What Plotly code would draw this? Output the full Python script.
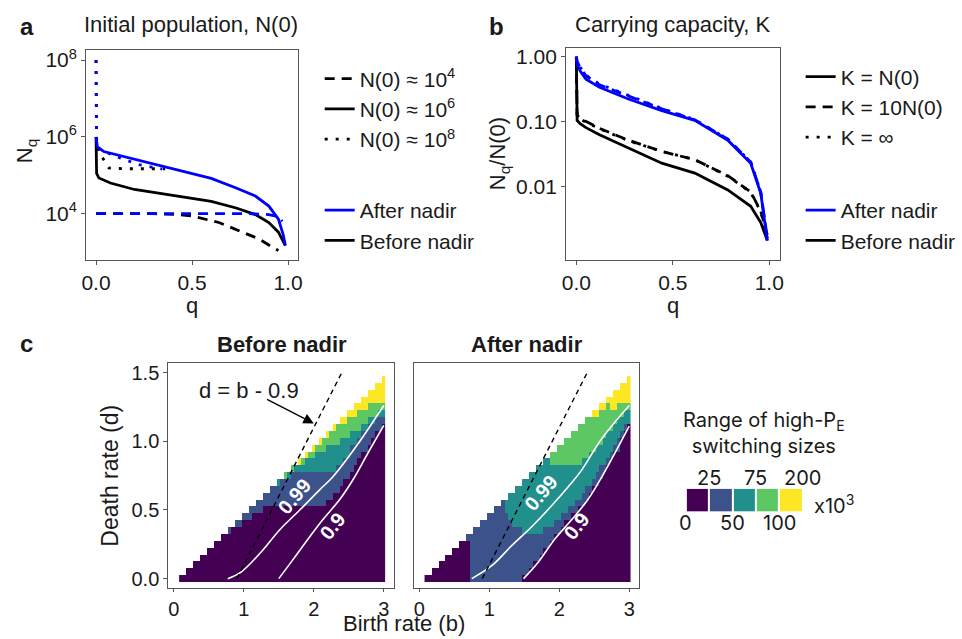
import plotly.graph_objects as go

# ---------------- Panel a : initial population ----------------
q_a_solid_before = [0, 0.003, 0.015, 0.075, 0.2, 0.37, 0.5, 0.6, 0.73, 0.83, 0.9, 0.95, 0.986]
n_a_solid_before = [1.0e6, 1.12e5, 8.5e4, 6.3e4, 4.27e4, 3.16e4, 2.51e4, 2.09e4, 1.41e4, 9.5e3, 5.9e3, 3.3e3, 1.48e3]
q_a_solid_after = [0, 0.007, 0.04, 0.2, 0.37, 0.5, 0.6, 0.73, 0.83, 0.9, 0.95, 0.975, 0.986]
n_a_solid_after = [1.0e6, 5.5e5, 4.17e5, 2.63e5, 1.66e5, 1.12e5, 8.3e4, 4.68e4, 2.88e4, 1.58e4, 7.2e3, 2.8e3, 1.48e3]
q_a_dash_before = [0, 0.3, 0.42, 0.5, 0.64, 0.75, 0.85, 0.92, 0.95]
n_a_dash_before = [1.0e4, 1.0e4, 9.5e3, 8.7e3, 5.9e3, 3.55e3, 2.19e3, 1.32e3, 1.1e3]
q_a_dash_after = [0, 0.5, 0.8, 0.9, 0.95, 0.97]
n_a_dash_after = [1.0e4, 1.0e4, 1.0e4, 9.5e3, 8.3e3, 6.3e3]
q_a_dot_before = [0, 0.003, 0.015, 0.04, 0.067, 0.15, 0.25, 0.36]
n_a_dot_before = [1.0e8, 7.9e5, 4.0e5, 2.5e5, 1.55e5, 1.48e5, 1.48e5, 1.48e5]
q_a_dot_after = [0, 0.002, 0.01, 0.05, 0.14, 0.23, 0.345]
n_a_dot_after = [1.0e8, 1.0e6, 5.2e5, 4.0e5, 2.63e5, 1.86e5, 1.45e5]

# ---------------- Panel b : carrying capacity ----------------
q_b = [0, 0.004, 0.02, 0.05, 0.12, 0.27, 0.443, 0.614, 0.785, 0.904, 0.956, 0.99]
r_b_after_kn0 = [1.0, 0.78, 0.60, 0.45, 0.34, 0.224, 0.148, 0.105, 0.052, 0.023, 0.0079, 0.00148]
r_b_after_k10 = [1.0, 0.85, 0.68, 0.51, 0.37, 0.25, 0.158, 0.107, 0.054, 0.024, 0.0083, 0.0016]
r_b_after_kinf = [1.0, 0.86, 0.69, 0.52, 0.38, 0.255, 0.16, 0.108, 0.054, 0.024, 0.0083, 0.0016]
r_b_before_kn0 = [1.0, 0.105, 0.093, 0.081, 0.063, 0.040, 0.023, 0.0162, 0.0089, 0.0050, 0.0028, 0.00148]
r_b_before_k10 = [1.0, 0.126, 0.112, 0.100, 0.079, 0.052, 0.035, 0.026, 0.0148, 0.0083, 0.0042, 0.0018]
r_b_before_kinf = [1.0, 0.125, 0.110, 0.098, 0.078, 0.051, 0.035, 0.026, 0.0145, 0.0082, 0.0041, 0.0018]

# ---------------- Panel c : heatmaps ----------------
birth_grid = [0.10, 0.15, 0.20, 0.25, 0.30, 0.35, 0.40, 0.45, 0.50, 0.55, 0.60, 0.65, 0.70, 0.75,
              0.80, 0.85, 0.90, 0.95, 1.00, 1.05, 1.10, 1.15, 1.20, 1.25, 1.30, 1.35, 1.40, 1.45,
              1.50, 1.55, 1.60, 1.65, 1.70, 1.75, 1.80, 1.85, 1.90, 1.95, 2.00, 2.05, 2.10, 2.15,
              2.20, 2.25, 2.30, 2.35, 2.40, 2.45, 2.50, 2.55, 2.60, 2.65, 2.70, 2.75, 2.80, 2.85,
              2.90, 2.95, 3.00]
death_grid = [0.00, 0.05, 0.10, 0.15, 0.20, 0.25, 0.30, 0.35, 0.40, 0.45, 0.50, 0.55, 0.60, 0.65, 0.70,
              0.75, 0.80, 0.85, 0.90, 0.95, 1.00, 1.05, 1.10, 1.15, 1.20, 1.25, 1.30, 1.35, 1.40, 1.45]
# first birth rate simulated in each death-rate row
row_start_b = [0.1, 0.2, 0.3, 0.4, 0.5, 0.6, 0.7, 0.8, 0.9, 1.0, 1.1, 1.2, 1.3, 1.4, 1.5,
               1.6, 1.7, 1.8, 1.9, 2.0, 2.1, 2.2, 2.3, 2.4, 2.5, 2.6, 2.7, 2.8, 2.9, 3.0]
# bins: 0 -> 0-25, 1 -> 25-50, 2 -> 50-75, 3 -> 75-100, 4 -> 100-200 (x10^3)
# each row: list of [bin, birth rate where the bin ends]
before_rows = [
    [[0, 3.05]], [[0, 3.05]], [[0, 3.05]], [[0, 3.05]], [[0, 3.05]], [[0, 3.05]], [[0, 3.05]],
    [[1, 0.85], [0, 3.05]],
    [[1, 1.0], [0, 3.05]],
    [[1, 1.15], [0, 3.05]],
    [[1, 1.3], [0, 3.05]],
    [[1, 2.2], [0, 3.05]],
    [[1, 2.3], [0, 3.05]],
    [[1, 2.4], [0, 3.05]],
    [[2, 1.55], [1, 2.45], [0, 3.05]],
    [[3, 1.65], [2, 1.7], [1, 2.52], [0, 3.05]],
    [[3, 1.75], [2, 2.35], [1, 2.58], [0, 3.05]],
    [[4, 1.85], [3, 1.9], [2, 2.45], [1, 2.63], [0, 3.05]],
    [[4, 1.95], [3, 2.05], [2, 2.52], [1, 2.7], [0, 3.05]],
    [[4, 2.05], [3, 2.2], [2, 2.55], [1, 2.76], [0, 3.05]],
    [[4, 2.15], [3, 2.4], [2, 2.62], [1, 2.83], [0, 3.05]],
    [[4, 2.25], [3, 2.55], [2, 2.7], [1, 2.9], [0, 3.05]],
    [[4, 2.35], [3, 2.68], [2, 2.8], [1, 2.98], [0, 3.05]],
    [[4, 2.5], [3, 2.8], [2, 2.9], [1, 3.05]],
    [[4, 2.65], [3, 2.95], [2, 3.05]],
    [[4, 2.8], [3, 3.05]],
    [[4, 3.05]], [[4, 3.05]], [[4, 3.05]], [[4, 3.05]],
]
after_rows = [
    [[0, 0.75], [1, 1.5], [0, 3.05]],
    [[0, 0.75], [1, 1.58], [0, 3.05]],
    [[0, 0.75], [1, 1.65], [0, 3.05]],
    [[0, 0.75], [1, 1.73], [0, 3.05]],
    [[0, 0.75], [1, 1.8], [0, 3.05]],
    [[0, 0.72], [1, 1.88], [0, 3.05]],
    [[1, 1.95], [0, 3.05]],
    [[1, 1.5], [2, 1.8], [1, 2.03], [0, 3.05]],
    [[1, 1.35], [2, 1.95], [1, 2.1], [0, 3.05]],
    [[1, 1.3], [2, 2.05], [1, 2.2], [0, 3.05]],
    [[1, 1.25], [2, 2.15], [1, 2.28], [0, 3.05]],
    [[1, 1.25], [2, 2.25], [1, 2.36], [0, 3.05]],
    [[2, 2.33], [1, 2.44], [0, 3.05]],
    [[2, 2.4], [1, 2.5], [0, 3.05]],
    [[2, 2.47], [1, 2.57], [0, 3.05]],
    [[2, 2.55], [1, 2.63], [0, 3.05]],
    [[2, 2.6], [1, 2.7], [0, 3.05]],
    [[2, 1.9], [3, 2.35], [2, 2.67], [1, 2.75], [0, 3.05]],
    [[3, 2.45], [2, 2.73], [1, 2.8], [0, 3.05]],
    [[3, 2.55], [2, 2.8], [1, 2.86], [0, 3.05]],
    [[3, 2.62], [2, 2.85], [1, 2.9], [0, 3.05]],
    [[3, 2.7], [2, 2.9], [1, 2.95], [0, 3.05]],
    [[3, 2.78], [2, 2.95], [1, 3.0], [0, 3.05]],
    [[3, 2.85], [2, 3.05]],
    [[4, 2.6], [3, 2.92], [2, 3.05]],
    [[4, 2.7], [3, 2.75], [4, 2.82], [3, 3.05]],
    [[4, 3.05]], [[4, 3.05]], [[4, 3.05]], [[4, 3.05]],
]
# contour lines of P_E (0.99 and 0.9)
before_c099_b = [0.77, 0.96, 1.24, 1.52, 1.80, 2.09, 2.27, 2.63, 3.0]
before_c099_d = [0.0, 0.048, 0.19, 0.36, 0.50, 0.65, 0.74, 0.98, 1.26]
before_c090_b = [1.50, 1.71, 1.95, 2.13, 2.37, 2.56, 2.78, 3.0]
before_c090_d = [0.0, 0.144, 0.31, 0.43, 0.576, 0.72, 0.92, 1.116]
after_c099_b = [0.75, 1.04, 1.32, 1.61, 1.89, 2.18, 2.32, 2.61, 3.0]
after_c099_d = [0.0, 0.096, 0.24, 0.38, 0.53, 0.70, 0.79, 1.02, 1.26]
after_c090_b = [1.49, 1.70, 1.94, 2.18, 2.41, 2.63, 3.0]
after_c090_d = [0.0, 0.12, 0.29, 0.43, 0.576, 0.76, 1.11]
ref_line_b = [0.9, 2.4]   # d = b - 0.9
ref_line_d = [0.0, 1.5]

bin_colors = ["#440154", "#3B528B", "#21908C", "#5DC863", "#FDE725"]
bin_labels_top = ["25", "75", "200"]
bin_labels_bottom = ["0", "50", "100"]

FONT = "Liberation Sans, Arial, sans-serif"
W, H = 962, 639
BLUE = "#0000FF"


def px(x):
    return x / W


def py(y):
    return 1 - y / H


def build_z(rows):
    z = []
    for s, segs in zip(row_start_b, rows):
        row = []
        for b in birth_grid:
            if b < s - 1e-9:
                row.append(None)
                continue
            cat = None
            for c, end in segs:
                if b < end - 1e-9:
                    cat = c
                    break
            row.append(cat)
        z.append(row)
    return z


cscale = []
for i, c in enumerate(bin_colors):
    cscale.append([i / 5, c])
    cscale.append([(i + 1) / 5, c])

fig = go.Figure()

DASH = "10px,7px"
DOT = "3px,8px"
LW = 2.8

# panel a lines
fig.add_trace(go.Scatter(x=q_a_dash_before, y=n_a_dash_before, mode="lines", line=dict(color="black", width=LW, dash=DASH), showlegend=False, xaxis="x", yaxis="y"))
fig.add_trace(go.Scatter(x=q_a_solid_before, y=n_a_solid_before, mode="lines", line=dict(color="black", width=LW), showlegend=False, xaxis="x", yaxis="y"))
fig.add_trace(go.Scatter(x=q_a_dot_before, y=n_a_dot_before, mode="lines", line=dict(color="black", width=LW, dash=DOT), showlegend=False, xaxis="x", yaxis="y"))
fig.add_trace(go.Scatter(x=q_a_solid_after, y=n_a_solid_after, mode="lines", line=dict(color=BLUE, width=LW), showlegend=False, xaxis="x", yaxis="y"))
fig.add_trace(go.Scatter(x=q_a_dash_after, y=n_a_dash_after, mode="lines", line=dict(color=BLUE, width=LW, dash=DASH), showlegend=False, xaxis="x", yaxis="y"))
fig.add_trace(go.Scatter(x=q_a_dot_after, y=n_a_dot_after, mode="lines", line=dict(color=BLUE, width=LW, dash=DOT), showlegend=False, xaxis="x", yaxis="y"))

# panel b lines
for r, dash in [(r_b_before_kn0, None), (r_b_before_k10, DASH), (r_b_before_kinf, DOT)]:
    fig.add_trace(go.Scatter(x=q_b, y=r, mode="lines", line=dict(color="black", width=LW, dash=dash), showlegend=False, xaxis="x2", yaxis="y2"))
for r, dash in [(r_b_after_kn0, None), (r_b_after_k10, DASH), (r_b_after_kinf, DOT)]:
    fig.add_trace(go.Scatter(x=q_b, y=r, mode="lines", line=dict(color=BLUE, width=LW, dash=dash), showlegend=False, xaxis="x2", yaxis="y2"))

# legends (panel a)
for name, dash in [("N(0) ≈ 10<sup>4</sup>", DASH), ("N(0) ≈ 10<sup>6</sup>", None), ("N(0) ≈ 10<sup>8</sup>", DOT)]:
    fig.add_trace(go.Scatter(x=[None], y=[None], mode="lines", name=name, line=dict(color="black", width=LW, dash=dash), legend="legend", xaxis="x", yaxis="y"))
for name, col in [("After nadir", BLUE), ("Before nadir", "black")]:
    fig.add_trace(go.Scatter(x=[None], y=[None], mode="lines", name=name, line=dict(color=col, width=LW), legend="legend2", xaxis="x", yaxis="y"))
# legends (panel b)
for name, dash in [("K = N(0)", None), ("K = 10N(0)", DASH), ("K = ∞", DOT)]:
    fig.add_trace(go.Scatter(x=[None], y=[None], mode="lines", name=name, line=dict(color="black", width=LW, dash=dash), legend="legend3", xaxis="x2", yaxis="y2"))
for name, col in [("After nadir", BLUE), ("Before nadir", "black")]:
    fig.add_trace(go.Scatter(x=[None], y=[None], mode="lines", name=name, line=dict(color=col, width=LW), legend="legend4", xaxis="x2", yaxis="y2"))

# panel c heatmaps
for rows, xa, ya, c99b, c99d, c90b, c90d in [
    (before_rows, "x3", "y3", before_c099_b, before_c099_d, before_c090_b, before_c090_d),
    (after_rows, "x4", "y4", after_c099_b, after_c099_d, after_c090_b, after_c090_d),
]:
    fig.add_trace(go.Heatmap(x=birth_grid, y=death_grid, z=build_z(rows), colorscale=cscale, zmin=-0.5, zmax=4.5,
                             showscale=False, hoverinfo="skip", xaxis=xa, yaxis=ya))
    fig.add_trace(go.Scatter(x=c99b, y=c99d, mode="lines", line=dict(color="white", width=1.6, shape="spline"), showlegend=False, xaxis=xa, yaxis=ya))
    fig.add_trace(go.Scatter(x=c90b, y=c90d, mode="lines", line=dict(color="white", width=1.6, shape="spline"), showlegend=False, xaxis=xa, yaxis=ya))
    fig.add_trace(go.Scatter(x=ref_line_b, y=ref_line_d, mode="lines", line=dict(color="black", width=1.4, dash="5px,4px"), showlegend=False, xaxis=xa, yaxis=ya))

# panel c colour key
fig.add_trace(go.Heatmap(x=[0, 1, 2, 3, 4], y=[0], z=[[0, 1, 2, 3, 4]], colorscale=cscale, zmin=-0.5, zmax=4.5,
                         showscale=False, hoverinfo="skip", xgap=2, xaxis="x5", yaxis="y5"))

FRAME = "#555555"
tickfont_ab = dict(family=FONT, size=21, color="#1a1a1a")
tickfont_c = dict(family=FONT, size=20, color="#1a1a1a")
common = dict(showline=True, mirror=True, linecolor=FRAME, linewidth=1, ticks="outside", ticklen=4,
              tickcolor=FRAME, showgrid=False, zeroline=False)
common_cx = dict(common)
common_cx["ticklen"] = 3

fig.update_layout(
    width=W, height=H, margin=dict(l=0, r=0, t=0, b=0),
    paper_bgcolor="white", plot_bgcolor="white",
    font=dict(family=FONT, color="#1a1a1a"),
    xaxis=dict(domain=[px(82), px(296)], range=[-0.0515, 1.0515], anchor="y", tickvals=[0, 0.5, 1],
               ticktext=["0.0", "0.5", "1.0"], tickfont=tickfont_ab, **common),
    yaxis=dict(domain=[py(258), py(46)], type="log", range=[2.79, 8.25], anchor="x",
               tickvals=[1e4, 1e6, 1e8], ticktext=["10<sup>4</sup>", "10<sup>6</sup>", "10<sup>8</sup>"],
               tickfont=tickfont_ab, **common),
    xaxis2=dict(domain=[px(567), px(783)], range=[-0.053, 1.055], anchor="y2", tickvals=[0, 0.5, 1],
                ticktext=["0.0", "0.5", "1.0"], tickfont=tickfont_ab, **common),
    yaxis2=dict(domain=[py(258), py(43)], type="log", range=[-3.131, 0.142], anchor="x2",
                tickvals=[0.01, 0.1, 1], ticktext=["0.01", "0.10", "1.00"], tickfont=tickfont_ab, **common),
    xaxis3=dict(domain=[px(165), px(393)], range=[-0.08, 3.145], anchor="y3", tickvals=[0, 1, 2, 3],
                tickfont=tickfont_c, **common_cx),
    yaxis3=dict(domain=[py(589), py(362)], range=[-0.0648, 1.5695], anchor="x3", tickvals=[0, 0.5, 1, 1.5],
                ticktext=["0.0", "0.5", "1.0", "1.5"], tickfont=tickfont_c, **common),
    xaxis4=dict(domain=[px(413), px(641)], range=[-0.08, 3.145], anchor="y4", tickvals=[0, 1, 2, 3],
                tickfont=tickfont_c, **common_cx),
    yaxis4=dict(domain=[py(589), py(362)], range=[-0.0648, 1.5695], anchor="x4", showline=True, mirror=True,
                linecolor=FRAME, linewidth=1, showticklabels=False, ticks="", showgrid=False, zeroline=False),
    xaxis5=dict(domain=[px(688), px(806)], range=[-0.5, 4.5], anchor="y5", visible=False),
    yaxis5=dict(domain=[py(512), py(489)], range=[-0.5, 0.5], anchor="x5", visible=False),
)

leg_common = dict(font=dict(family=FONT, size=21, color="#1a1a1a"), bgcolor="rgba(0,0,0,0)",
                  xanchor="left", yanchor="top", itemwidth=30, tracegroupgap=0, traceorder="normal")
fig.update_layout(
    legend=dict(x=px(318), y=py(54), **leg_common),
    legend2=dict(x=px(318), y=py(187), **leg_common),
    legend3=dict(x=px(804), y=py(52), **leg_common),
    legend4=dict(x=px(804), y=py(187), **leg_common),
)

ann = []


def txt(x, y, t, size=19, bold=False, angle=0, color="#1a1a1a", family=FONT, **kw):
    if bold:
        t = "<b>" + t + "</b>"
    d = dict(x=px(x), y=py(y), xref="paper", yref="paper", text=t, showarrow=False, textangle=angle,
             font=dict(family=family, size=size, color=color), xanchor="center", yanchor="middle")
    d.update(kw)
    ann.append(d)


txt(22, 22, "a", size=24, bold=True)
txt(188, 20, "Initial population, N(0)", size=22)
txt(497, 22, "b", size=24, bold=True)
txt(675, 20, "Carrying capacity, K", size=22)
txt(189, 304, "q", size=22)
txt(675, 304, "q", size=22)
txt(22, 148, "N<sub>q</sub>", size=22, angle=-90)
txt(500, 150, "N<sub>q</sub>/N(0)", size=22, angle=-90)
txt(22, 342, "c", size=24, bold=True)
txt(280, 343, "Before nadir", size=22, bold=True)
txt(527, 343, "After nadir", size=22, bold=True)
txt(403, 625, "Birth rate (b)", size=22)
txt(106, 476, "Death rate (d)", size=23, angle=-90)

# colour key texts
KEYF = "Inter, Liberation Sans, sans-serif"
txt(767, 433, "Range of high-P<sub>E</sub><br>switching sizes", size=20, family=KEYF, align="center")
txt(838, 505, "x10<sup>3</sup>", size=20, family=KEYF)
for lab, pos in zip(bin_labels_top, [0.5, 2.5, 4.5]):
    ann.append(dict(x=pos, y=0.5, xref="x5", yref="y5", text=lab, showarrow=False, yanchor="bottom", yshift=-3,
                    font=dict(family=KEYF, size=20, color="#1a1a1a")))
for lab, pos in zip(bin_labels_bottom, [-0.5, 1.5, 3.5]):
    ann.append(dict(x=pos, y=-0.5, xref="x5", yref="y5", text=lab, showarrow=False, yanchor="top", yshift=2,
                    font=dict(family=KEYF, size=20, color="#1a1a1a")))

# panel c annotations in data coordinates
ann.append(dict(x=1.08, y=1.37, xref="x3", yref="y3", text="d = b - 0.9", showarrow=False,
                font=dict(family=FONT, size=22, color="#1a1a1a")))
ann.append(dict(x=2.0, y=1.13, xref="x3", yref="y3", ax=1.31, ay=1.31, axref="x3", ayref="y3", text="",
                showarrow=True, arrowhead=2, arrowsize=1.6, arrowwidth=1.3, arrowcolor="black"))
for xa, ya, p99, p90 in [("x3", "y3", (1.73, 0.60), (2.27, 0.38)), ("x4", "y4", (1.74, 0.62), (2.25, 0.38))]:
    ann.append(dict(x=p99[0], y=p99[1], xref=xa, yref=ya, text="<b>0.99</b>", showarrow=False, textangle=-50,
                    font=dict(family=FONT, size=20, color="white")))
    ann.append(dict(x=p90[0], y=p90[1], xref=xa, yref=ya, text="<b>0.9</b>", showarrow=False, textangle=-52,
                    font=dict(family=FONT, size=20, color="white")))

fig.update_layout(annotations=ann)

fig.write_html("out.html", config={"displayModeBar": False},
               post_script="document.body.style.margin='0px';")
